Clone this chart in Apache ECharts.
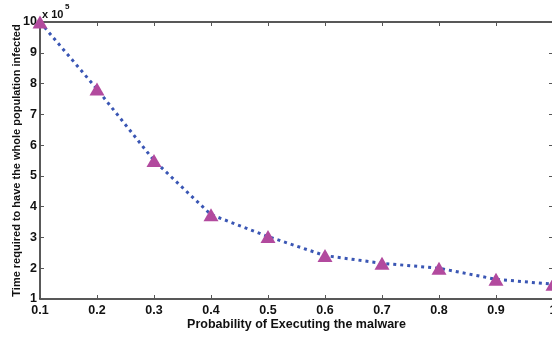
<!DOCTYPE html>
<html>
<head>
<meta charset="utf-8">
<script src="https://cdn.jsdelivr.net/npm/echarts@6/dist/echarts.min.js"></script>
<style>html,body{margin:0;padding:0;background:#fff}#c{width:552px;height:341px}</style>
</head>
<body>
<div id="c"></div>
<script>
const categories = ['0.1','0.2','0.3','0.4','0.5','0.6','0.7','0.8','0.9','1'];
const timeValues = [10, 7.82, 5.5, 3.74, 3.03, 2.41, 2.16, 2.0, 1.64, 1.48];
const yTicks = [1, 10, 1]; // min, max, interval
const xName = 'Probability of Executing the malware';
const yName = 'Time required to have the whole population infected';

const chart = echarts.init(document.getElementById('c'));
const font = 'Liberation Sans, Arial, sans-serif';
const axisCol = '#222';
chart.setOption({
  animation: false,
  backgroundColor: '#fff',
  graphic: [{
    type: 'text', left: 42, top: 9,
    style: {text: 'x 10', font: 'bold 11px Liberation Sans, Arial, sans-serif', fill: '#111'}
  }, {
    type: 'text', left: 65, top: 3,
    style: {text: '5', font: 'bold 8px Liberation Sans, Arial, sans-serif', fill: '#111'}
  }],
  grid: {left: 40, top: 22, width: 513, height: 277, containLabel: false, outerBoundsMode: 'none'},
  xAxis: [{
    type: 'category', data: categories, boundaryGap: false,
    name: xName, nameLocation: 'middle', nameGap: 19, nameMoveOverlap: false,
    nameTextStyle: {fontFamily: font, fontWeight: 'bold', fontSize: 12.5, color: '#111'},
    axisLine: {lineStyle: {color: axisCol, width: 1.5}},
    axisTick: {inside: true, length: 4, lineStyle: {color: '#555'}},
    axisLabel: {fontFamily: font, fontWeight: 'bold', fontSize: 12.5, color: '#111', margin: 5},
    splitLine: {show: false}
  }, {
    type: 'category', data: categories, boundaryGap: false, position: 'top',
    axisLine: {lineStyle: {color: axisCol, width: 1.5}},
    axisTick: {inside: true, length: 4, lineStyle: {color: '#555'}},
    axisLabel: {show: false}, splitLine: {show: false}
  }],
  yAxis: [{
    type: 'value', min: yTicks[0], max: yTicks[1], interval: yTicks[2],
    name: yName, nameLocation: 'middle', nameGap: 18, nameMoveOverlap: false,
    nameTextStyle: {fontFamily: font, fontWeight: 'bold', fontSize: 11, color: '#111'},
    axisLine: {show: true, lineStyle: {color: axisCol, width: 1.5}},
    axisTick: {show: true, inside: true, length: 4, lineStyle: {color: '#555'}},
    axisLabel: {fontFamily: font, fontWeight: 'bold', fontSize: 12.5, color: '#111', margin: 3},
    splitLine: {show: false}
  }, {
    type: 'value', min: yTicks[0], max: yTicks[1], interval: yTicks[2], position: 'right',
    axisLine: {show: true, lineStyle: {color: axisCol, width: 1.5}},
    axisTick: {show: true, inside: true, length: 4, lineStyle: {color: '#555'}},
    axisLabel: {show: false}, splitLine: {show: false}
  }],
  series: [{
    type: 'line', data: timeValues, xAxisIndex: 0, yAxisIndex: 0,
    symbol: 'triangle', symbolSize: [15, 13], showAllSymbol: true,
    itemStyle: {color: '#b24a9e', borderWidth: 0},
    lineStyle: {color: '#3a56b4', width: 3, type: [3, 4]},
    z: 3
  }]
});
</script>
</body>
</html>
